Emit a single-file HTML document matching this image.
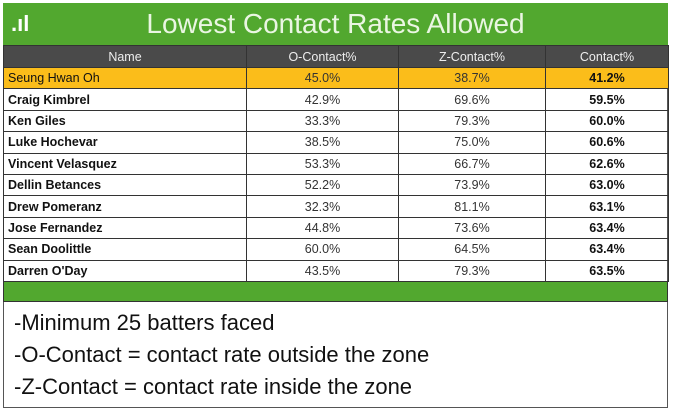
<!DOCTYPE html>
<html><head><meta charset="utf-8"><style>
body{margin:0;width:673px;height:420px;background:#fff;font-family:"Liberation Sans",Arial,sans-serif;position:relative;overflow:hidden}
.box{position:absolute;left:3px;top:3px;width:665px;height:405px;border:1px solid #555;box-sizing:border-box}
.title{position:absolute;left:3px;top:3px;width:665px;height:42px;background:#52a82f;color:#eaf6e2;font-size:28px;text-align:center;line-height:42px}
table{position:absolute;left:3px;top:45px;width:665px;border-collapse:collapse;font-size:12.5px;table-layout:fixed}
td,th{border:1px solid #333;height:21.4px;padding:0 4px;box-sizing:border-box}
th{background:#4a4a4a;color:#eee;font-weight:normal;height:22px}
td{text-align:center;color:#333}
td.n{text-align:left;font-weight:bold;color:#111}
td.c{font-weight:bold;color:#111}
tr.hl td{background:#fbbd1a;font-weight:normal}
tr.hl td.c{font-weight:bold}
.gbar{position:absolute;left:3px;top:281px;width:665px;height:21px;background:#52a82f;border:1px solid #333;box-sizing:border-box}
.note{position:absolute;left:14px;font-size:22px;color:#111}
</style></head><body>
<div class="box"></div>
<div class="title"><span style="position:absolute;left:8px;top:0;font-size:22px;font-weight:bold;color:#fff">.ıl</span>Lowest Contact Rates Allowed</div>
<table>
<colgroup><col style="width:243px"><col style="width:152px"><col style="width:147px"><col style="width:123px"></colgroup>
<tr><th>Name</th><th>O-Contact%</th><th>Z-Contact%</th><th>Contact%</th></tr>
<tr class="hl"><td class="n" style="font-weight:normal">Seung Hwan Oh</td><td>45.0%</td><td>38.7%</td><td class="c">41.2%</td></tr>
<tr><td class="n">Craig Kimbrel</td><td>42.9%</td><td>69.6%</td><td class="c">59.5%</td></tr>
<tr><td class="n">Ken Giles</td><td>33.3%</td><td>79.3%</td><td class="c">60.0%</td></tr>
<tr><td class="n">Luke Hochevar</td><td>38.5%</td><td>75.0%</td><td class="c">60.6%</td></tr>
<tr><td class="n">Vincent Velasquez</td><td>53.3%</td><td>66.7%</td><td class="c">62.6%</td></tr>
<tr><td class="n">Dellin Betances</td><td>52.2%</td><td>73.9%</td><td class="c">63.0%</td></tr>
<tr><td class="n">Drew Pomeranz</td><td>32.3%</td><td>81.1%</td><td class="c">63.1%</td></tr>
<tr><td class="n">Jose Fernandez</td><td>44.8%</td><td>73.6%</td><td class="c">63.4%</td></tr>
<tr><td class="n">Sean Doolittle</td><td>60.0%</td><td>64.5%</td><td class="c">63.4%</td></tr>
<tr><td class="n">Darren O'Day</td><td>43.5%</td><td>79.3%</td><td class="c">63.5%</td></tr>
</table>
<div class="gbar"></div>
<div class="note" style="top:310px">-Minimum 25 batters faced</div>
<div class="note" style="top:342px">-O-Contact = contact rate outside the zone</div>
<div class="note" style="top:374px">-Z-Contact = contact rate inside the zone</div>
</body></html>
